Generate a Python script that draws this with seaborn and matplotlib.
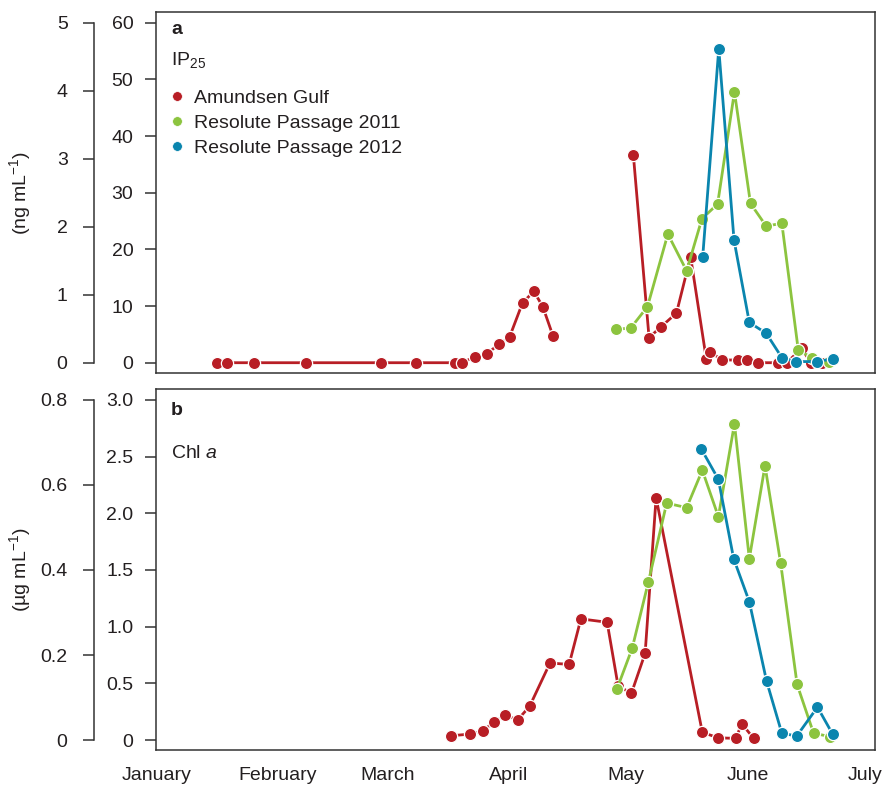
import numpy as np
import pandas as pd
import matplotlib
matplotlib.use("Agg")
import matplotlib.pyplot as plt
from matplotlib.lines import Line2D
import seaborn as sns

# ---- sampling days (day of year, 0 = 1 January) and concentrations ----
# IP25, Amundsen Gulf (ng mL-1, outer axis)
ag_ip25_day = [15.4, 18.1, 25.0, 38.2, 57.4, 66.4, 76.3, 78.1, 81.4, 84.4, 87.4, 90.2,
               93.5, 96.4, 98.7, 101.3,
               121.8, 125.8, 128.9, 132.8, 136.4, 140.4, 141.4, 144.4, 148.6, 150.7,
               153.5, 158.6, 160.9, 164.8, 167.1, 169.9]
ag_ip25 = [0.0, 0.0, 0.0, 0.0, 0.0, 0.0, 0.0, 0.0, 0.09, 0.13, 0.27, 0.38,
           0.88, 1.05, 0.82, 0.39,
           3.05, 0.37, 0.53, 0.73, 1.56, 0.06, 0.16, 0.04, 0.04, 0.035,
           0.0, 0.0, 0.0, 0.21, 0.0, 0.0]
ag_ip25_period = [1] * 16 + [2] * 16

# IP25, Resolute Passage (inner axis)
rp11_ip25_day = [117.3, 121.1, 125.4, 130.6, 135.4, 139.3, 143.3, 147.6, 151.7, 155.7,
                 159.7, 163.9, 167.4, 171.7]
rp11_ip25 = [5.9, 6.1, 9.9, 22.7, 16.2, 25.4, 28.0, 47.8, 28.1, 24.1, 24.6, 2.2, 0.9, 0.2]

rp12_ip25_day = [139.5, 143.6, 147.5, 151.4, 155.7, 159.8, 163.4, 168.8, 172.8]
rp12_ip25 = [18.7, 55.4, 21.6, 7.1, 5.2, 0.8, 0.2, 0.2, 0.7]

# Chl a, Amundsen Gulf (µg mL-1, outer axis)
ag_chl_day = [75.2, 80.2, 83.3, 86.3, 88.9, 92.3, 95.3, 100.5, 105.4, 108.4, 115.1,
              117.9, 121.3, 124.8, 127.6, 139.4, 143.5, 147.9, 149.5, 152.5]
ag_chl = [0.010, 0.014, 0.021, 0.043, 0.058, 0.048, 0.079, 0.181, 0.178, 0.285, 0.277,
          0.127, 0.110, 0.204, 0.570, 0.018, 0.005, 0.004, 0.038, 0.004]

# Chl a, Resolute Passage (inner axis)
rp11_chl_day = [117.6, 121.5, 125.6, 130.3, 135.4, 139.4, 143.5, 147.6, 151.4, 155.4,
                159.4, 163.6, 167.8, 172.0]
rp11_chl = [0.45, 0.81, 1.39, 2.09, 2.05, 2.38, 1.97, 2.79, 1.60, 2.42, 1.56, 0.49,
            0.06, 0.03]

rp12_chl_day = [139.1, 143.5, 147.4, 151.4, 155.8, 159.7, 163.5, 168.8, 172.7]
rp12_chl = [2.57, 2.30, 1.60, 1.22, 0.52, 0.06, 0.035, 0.29, 0.05]

month_starts = [0, 31, 59, 90, 120, 151, 181]
month_names = ["January", "February", "March", "April", "May", "June", "July"]

series_names = ["Amundsen Gulf", "Resolute Passage 2011", "Resolute Passage 2012"]
RED, GREEN, BLUE = "#B81E25", "#8CC43F", "#0A85AE"
TXT = "#231F20"

sns.set_style("white")
plt.rcParams["font.family"] = ["Liberation Sans", "DejaVu Sans"]
plt.rcParams["mathtext.fontset"] = "custom"
plt.rcParams["mathtext.rm"] = "Liberation Sans"
plt.rcParams["mathtext.it"] = "Liberation Sans:italic"
plt.rcParams["font.size"] = 14
plt.rcParams["text.color"] = TXT
plt.rcParams["axes.labelcolor"] = TXT
plt.rcParams["xtick.color"] = TXT
plt.rcParams["ytick.color"] = TXT

line_kw = dict(marker="o", markersize=8.8, markeredgecolor="white",
               markeredgewidth=0.9, linewidth=2.0, estimator=None, legend=False)

fig = plt.figure(figsize=(8.87, 7.85), dpi=100)
ax_a = fig.add_axes([0.1762, 0.5248, 0.8099, 0.4599])
ax_b = fig.add_axes([0.1762, 0.0446, 0.8099, 0.4599])

XLIM = (0, 183.4)
SPINE_POS = -0.0867


def setup_panel(ax, inner_lim, inner_ticks, inner_labels,
                outer_lim, outer_ticks, outer_labels, outer_bounds, ylabel):
    ax.set_xlim(*XLIM)
    ax.set_ylim(*inner_lim)
    for s in ax.spines.values():
        s.set_visible(True)
        s.set_color("#333333")
        s.set_linewidth(1.1)
    ax.set_yticks(inner_ticks)
    ax.set_yticklabels(inner_labels)
    ax.tick_params(axis="y", which="both", direction="out", length=8, width=1.1,
                   pad=8.5, left=True, labelsize=14, color="#333333")
    ax.tick_params(axis="x", length=0)

    tw = ax.twinx()
    tw.set_ylim(*outer_lim)
    tw.yaxis.tick_left()
    tw.yaxis.set_label_position("left")
    for name, s in tw.spines.items():
        s.set_visible(name == "left")
    tw.spines["left"].set_position(("axes", SPINE_POS))
    tw.spines["left"].set_bounds(outer_bounds)
    tw.spines["left"].set_color("#333333")
    tw.spines["left"].set_linewidth(1.1)
    tw.set_yticks(outer_ticks)
    tw.set_yticklabels(outer_labels)
    tw.tick_params(axis="y", direction="out", length=8, width=1.1, pad=11,
                   labelsize=14, color="#333333")
    # Resolute Passage series (on ax) sit above the Amundsen Gulf series
    ax.set_zorder(tw.get_zorder() + 1)
    ax.patch.set_visible(False)
    return tw


def finish_axes(ax, tw, ylabel):
    tw.set_ylabel(ylabel, fontsize=14)
    tw.yaxis.set_label_coords(-0.171, 0.5)
    tw.set_xlim(*XLIM)
    ax.set_xlim(*XLIM)
    ax.set_xticks(month_starts)
    ax.set_xlabel("")
    ax.set_ylabel("")


# ---- panel a: IP25 ----
tw_a = setup_panel(ax_a, (-1.82, 61.88), list(range(0, 61, 10)),
                   [str(v) for v in range(0, 61, 10)],
                   (-1.82 / 12, 61.88 / 12), [0, 1, 2, 3, 4, 5],
                   ["0", "1", "2", "3", "4", "5"], (0, 5),
                   r"(ng mL$^{\mathregular{-1}}$)")

df_ag_ip = pd.DataFrame({"day": ag_ip25_day, "conc": ag_ip25, "period": ag_ip25_period})
sns.lineplot(data=df_ag_ip, x="day", y="conc", units="period", color=RED,
             ax=tw_a, **line_kw)
sns.lineplot(x=rp11_ip25_day, y=rp11_ip25, color=GREEN, ax=ax_a, **line_kw)
sns.lineplot(x=rp12_ip25_day, y=rp12_ip25, color=BLUE, ax=ax_a, **line_kw)
finish_axes(ax_a, tw_a, r"(ng mL$^{\mathregular{-1}}$)")
ax_a.set_xticklabels([])

ax_a.text(0.0205, 0.940, "a", transform=ax_a.transAxes, fontsize=14,
          fontweight="bold", va="baseline", ha="left")
ax_a.text(0.0205, 0.853, r"IP$_{\mathregular{25}}$", transform=ax_a.transAxes,
          fontsize=14, va="baseline", ha="left")

handles = [Line2D([], [], linestyle="none", marker="o", markersize=7,
                  markerfacecolor=c, markeredgecolor="white", markeredgewidth=0.5)
           for c in (RED, GREEN, BLUE)]
ax_a.legend(handles, series_names, loc="upper left", bbox_to_anchor=(0.0165, 0.785),
            frameon=False, fontsize=14, handlelength=0.9, handletextpad=0.45,
            labelspacing=0.37, borderpad=0, borderaxespad=0)

# ---- panel b: Chl a ----
tw_b = setup_panel(ax_b, (-0.088, 3.097), [0, 0.5, 1.0, 1.5, 2.0, 2.5, 3.0],
                   ["0", "0.5", "1.0", "1.5", "2.0", "2.5", "3.0"],
                   (-0.088 / 3.75, 3.097 / 3.75), [0, 0.2, 0.4, 0.6, 0.8],
                   ["0", "0.2", "0.4", "0.6", "0.8"], (0, 0.8),
                   r"(µg mL$^{\mathregular{-1}}$)")

sns.lineplot(x=ag_chl_day, y=ag_chl, color=RED, ax=tw_b, **line_kw)
sns.lineplot(x=rp11_chl_day, y=rp11_chl, color=GREEN, ax=ax_b, **line_kw)
sns.lineplot(x=rp12_chl_day, y=rp12_chl, color=BLUE, ax=ax_b, **line_kw)
finish_axes(ax_b, tw_b, r"(µg mL$^{\mathregular{-1}}$)")
ax_b.set_xticklabels(month_names, fontsize=14)
ax_b.tick_params(axis="x", length=0, pad=12)

ax_b.text(0.0205, 0.928, "b", transform=ax_b.transAxes, fontsize=14,
          fontweight="bold", va="baseline", ha="left")
ax_b.text(0.0205, 0.808, r"Chl $\mathit{a}$", transform=ax_b.transAxes,
          fontsize=14, va="baseline", ha="left")

fig.savefig("out.png", dpi=100)
